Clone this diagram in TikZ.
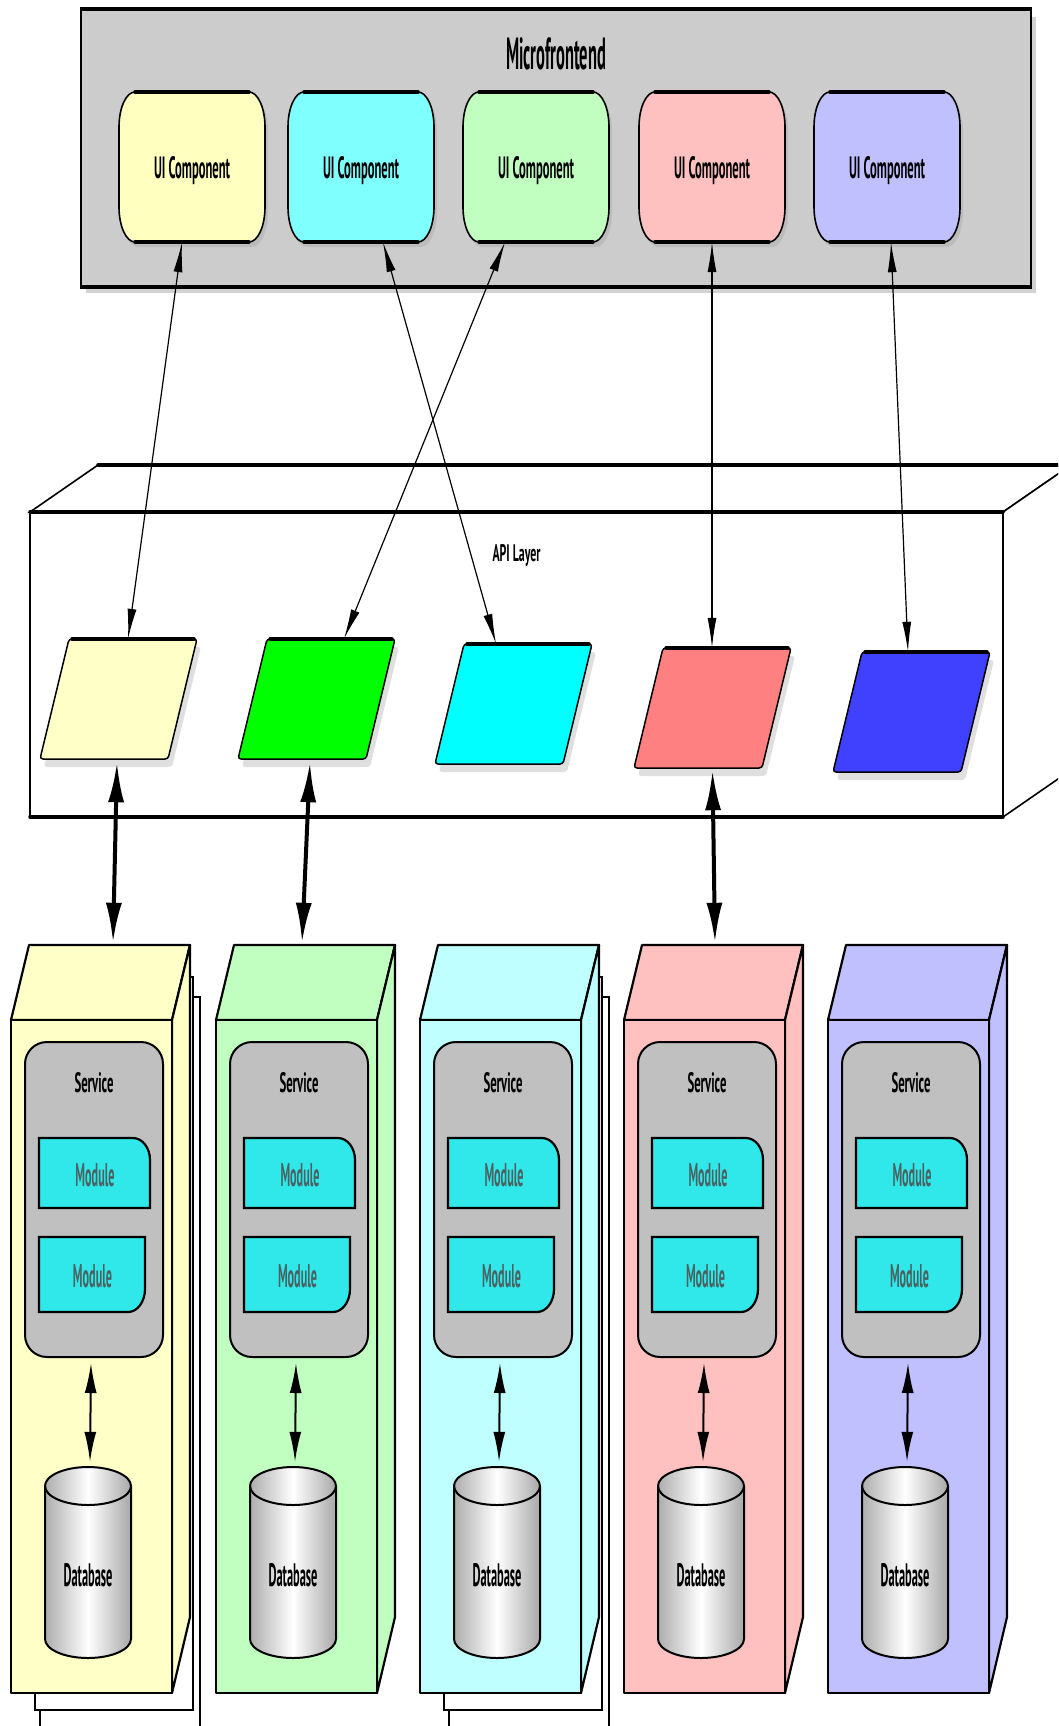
\documentclass[tikz,border=0pt]{standalone}
\usepackage{fontspec}
\setsansfont{PT Sans}
\usepackage{graphicx}
\usetikzlibrary{arrows.meta,calc,shadows}
\definecolor{mfgray}{HTML}{CCCCCC}
\definecolor{uiY}{HTML}{FFFFC0}
\definecolor{uiC}{HTML}{80FFFF}
\definecolor{uiG}{HTML}{C0FFC0}
\definecolor{uiP}{HTML}{FFC0C0}
\definecolor{uiB}{HTML}{C0C0FF}
\definecolor{paY}{HTML}{FFFFC8}
\definecolor{paG}{HTML}{00FF00}
\definecolor{paC}{HTML}{00FFFF}
\definecolor{paR}{HTML}{FF8080}
\definecolor{paB}{HTML}{4040FF}
\definecolor{colY}{HTML}{FFFFC8}
\definecolor{colG}{HTML}{C0FFC0}
\definecolor{colC}{HTML}{C0FFFF}
\definecolor{colP}{HTML}{FFC0C0}
\definecolor{colB}{HTML}{C0C0FF}
\definecolor{svcgray}{HTML}{C0C0C0}
\definecolor{modC}{HTML}{30E8EA}
\definecolor{modtext}{HTML}{4A6262}
\newcommand\tx[3]{\resizebox{#1pt}{#2pt}{\sffamily\bfseries #3}}
\newcommand\rtx[4]{\raisebox{#1pt}[0pt][0pt]{\tx{#2}{#3}{#4}}}
\begin{document}
\begin{tikzpicture}[x=1pt,y=-1pt,
  mfbox/.style={draw, line width=2pt, fill=mfgray, minimum width=950pt, minimum height=276pt, inner sep=0pt, drop shadow={shadow xshift=5pt, shadow yshift=-7pt, opacity=0.35}},
  uishape/.style={draw, line width=1.6pt, drop shadow={shadow xshift=3pt, shadow yshift=-5pt, opacity=0.2}},
  uinode/.style={inner sep=0pt, minimum width=146pt, minimum height=150pt},
  edgethick/.style={line width=3.5pt, line cap=round},
  apiface/.style={draw, line width=1.6pt, fill=white},
  apibox/.style={apiface, minimum width=973pt, minimum height=305pt, inner sep=0pt},
  parashape/.style={draw, line width=1.5pt, rounded corners=3pt, drop shadow={shadow xshift=4pt, shadow yshift=-8pt, opacity=0.25}},
  panode/.style={inner sep=0pt, minimum width=157pt, minimum height=120pt},
  copyst/.style={draw, line width=1.6pt, fill=white},
  colst/.style={draw, line width=2.2pt, line join=round},
  colnode/.style={inner sep=0pt, minimum width=179pt, minimum height=748pt},
  svcnode/.style={draw, line width=2pt, fill=svcgray, rounded corners=22pt, minimum width=138pt, minimum height=315pt, inner sep=0pt},
  modshape/.style={draw, line width=2.2pt, fill=modC},
  modnode/.style={inner sep=0pt, text=modtext},
  dbshape/.style={draw, line width=2pt, left color=black!32, right color=black!34, middle color=white},
  dbnode/.style={inner sep=0pt, minimum width=86pt, minimum height=192pt},
  thinarr/.style={{Latex[length=30pt,width=9pt]}-{Latex[length=30pt,width=9pt]}, line width=1.2pt},
  thickarr/.style={{Latex[length=40pt,width=16pt]}-{Latex[length=40pt,width=16pt]}, line width=4pt},
  dbarr/.style={{Latex[length=30pt,width=12pt]}-{Latex[length=30pt,width=12pt]}, line width=2pt},
]
\useasboundingbox (0,0) rectangle (1058,1726);
\clip (0,0) rectangle (1058,1726);
\fill[white] (0,0) rectangle (1058,1726);

% Microfrontend
\node[mfbox] (mf) at (556,148) {\rtx{78}{100}{32}{Microfrontend}};
\draw[line width=4pt] (mf.north west) -- (mf.north east);
\draw[line width=4pt] (mf.south west) -- (mf.south east);

\foreach \cx/\cl/\n in {192/uiY/1,361/uiC/2,536/uiG/3,712/uiP/4,887/uiB/5}{
  \draw[uishape, fill=\cl] ({\cx-57},92) -- ({\cx+57},92) .. controls ({\cx+65.8},92) and ({\cx+73},107.7) .. ({\cx+73},127) -- ({\cx+73},207) .. controls ({\cx+73},226.3) and ({\cx+65.8},242) .. ({\cx+57},242) -- ({\cx-57},242) .. controls ({\cx-65.8},242) and ({\cx-73},226.3) .. ({\cx-73},207) -- ({\cx-73},127) .. controls ({\cx-73},107.7) and ({\cx-65.8},92) .. ({\cx-57},92) -- cycle;
  \draw[edgethick] ({\cx-57},92) -- ({\cx+57},92);
  \draw[edgethick] ({\cx-57},242) -- ({\cx+57},242);
  \node[uinode] (ui\n) at (\cx,167) {\rtx{-11}{76}{22}{UI Component}};
}

% API layer
\draw[apiface] (30,512) -- (98,465) -- (1071,465) -- (1003,512) -- cycle;
\draw[apiface] (1003,512) -- (1071,465) -- (1071,770) -- (1003,817) -- cycle;
\node[apibox] (api) at (516.5,664.5) {\rtx{103.5}{48}{17}{API Layer}};
\draw[edgethick] (30,512) -- (1003,512);
\draw[edgethick] (98,465) -- (1071,465);
\draw[edgethick] (30,817) -- (1003,817);

\foreach \bx/\ty/\cl/\n in {40/639/paY/1,238/639/paG/2,435/644/paC/3,634/648/paR/4,833/652/paB/5}{
  \draw[parashape, fill=\cl] ({\bx+29},\ty) -- ({\bx+157},\ty) -- ({\bx+128},{\ty+120}) -- (\bx,{\ty+120}) -- cycle;
  \draw[edgethick] ({\bx+32},\ty) -- ({\bx+154},\ty);
  \node[panode] (p\n) at ({\bx+78.5},{\ty+60}) {};
}

% service columns
\foreach \L/\cl/\n/\cp in {11/colY/1/1,216/colG/2/0,420/colC/3/1,624/colP/4/0,828/colB/5/0}{
  \ifnum\cp=1
    \draw[copyst] ({\L+29},997) rectangle ({\L+189},1745);
    \draw[copyst] ({\L+24},977) rectangle ({\L+182},1710);
  \fi
  \draw[colst, fill=\cl] (\L,1020) -- ({\L+18},945) -- ({\L+179},945) -- ({\L+161},1020) -- cycle;
  \draw[colst, fill=\cl] ({\L+161},1020) -- ({\L+179},945) -- ({\L+179},1617) -- ({\L+161},1693) -- cycle;
  \draw[colst, fill=\cl] (\L,1020) rectangle ({\L+161},1693);
  \node[colnode] (col\n) at ({\L+89.5},1319) {};
  \node[svcnode] (svc\n) at ({\L+83},1199.5) {\rtx{107.5}{39}{20}{Service}};
  \draw[modshape] ({\L+28},1138) -- ({\L+122},1138) .. controls ({\L+131.4},1138) and ({\L+139},1147.9) .. ({\L+139},1160) -- ({\L+139},1208) -- ({\L+28},1208) -- cycle;
  \node[modnode] (mA\n) at ({\L+84},1173) {\rtx{-13}{39}{23}{Module}};
  \draw[modshape] ({\L+28},1237) -- ({\L+134},1237) -- ({\L+134},1289) .. controls ({\L+134},1301.7) and ({\L+126.4},1312) .. ({\L+117},1312) -- ({\L+28},1312) -- cycle;
  \node[modnode] (mB\n) at ({\L+81.5},1274.5) {\rtx{-12.5}{39}{23}{Module}};
  \draw[dbshape] ({\L+34},1486) -- ({\L+34},1639) .. controls ({\L+34},1649.5) and ({\L+53.3},1658) .. ({\L+77},1658) .. controls ({\L+100.7},1658) and ({\L+120},1649.5) .. ({\L+120},1639) -- ({\L+120},1486) .. controls ({\L+120},1475.5) and ({\L+100.7},1467) .. ({\L+77},1467) .. controls ({\L+53.3},1467) and ({\L+34},1475.5) .. ({\L+34},1486) -- cycle;
  \draw[line width=2pt] ({\L+34},1486) .. controls ({\L+34},1496.5) and ({\L+53.3},1505) .. ({\L+77},1505) .. controls ({\L+100.7},1505) and ({\L+120},1496.5) .. ({\L+120},1486);
  \node[dbnode] (db\n) at ({\L+77},1562.5) {\rtx{-23.5}{49}{23}{Database}};
  \draw[dbarr] ([xshift=-3pt,yshift=-5pt]svc\n.south) -- ([xshift=2pt,yshift=4.5pt]db\n.north);
}

% connectors
\draw[thinarr] ([xshift=-10pt]ui1.south) -- ([xshift=9.5pt]p1.north);
\draw[thinarr] ([xshift=22pt]ui2.south) -- ([xshift=-17.5pt]p3.north);
\draw[thinarr] ([xshift=-31pt]ui3.south) -- ([xshift=27.5pt]p2.north);
\draw[thinarr] (ui4.south) -- ([xshift=-0.5pt]p4.north);
\draw[thinarr] ([xshift=4pt]ui5.south) -- ([xshift=-3.5pt]p5.north);
\draw[thickarr] ([xshift=-1.5pt,yshift=-3pt]p1.south) -- ([xshift=12.5pt,yshift=2pt]col1.north);
\draw[thickarr] ([xshift=-6.5pt,yshift=-3pt]p2.south) -- ([xshift=-3.5pt,yshift=2pt]col2.north);
\draw[thickarr] ([yshift=-2pt]p4.south) -- ([xshift=1.5pt,yshift=2pt]col4.north);
\end{tikzpicture}
\end{document}
